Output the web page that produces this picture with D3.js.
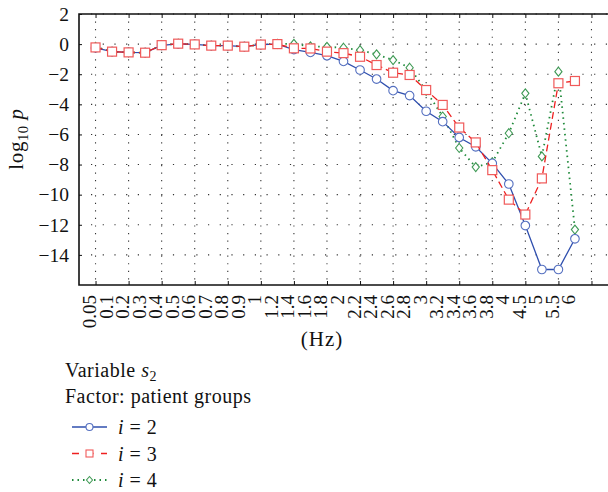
<!DOCTYPE html>
<html><head><meta charset="utf-8">
<script src="https://cdn.jsdelivr.net/npm/d3@7"></script>
<style>
body{margin:0;background:#fff;}
svg{display:block;font-family:"Liberation Serif","Times New Roman",serif;}
</style></head>
<body><svg id="c" width="608" height="492"></svg>
<script>
const categories = ["0.05","0.1","0.2","0.3","0.4","0.5","0.6","0.7","0.8","0.9","1","1.2","1.4","1.6","1.8","2","2.2","2.4","2.6","2.8","3","3.2","3.4","3.6","3.8","4","4.5","5","5.5","6"];
const seriesI2 = [-0.25,-0.5,-0.55,-0.57,-0.08,0.02,-0.02,-0.1,-0.1,-0.17,-0.03,0,-0.36,-0.55,-0.77,-1.15,-1.72,-2.32,-3.09,-3.42,-4.46,-5.15,-6.2,-6.82,-7.92,-9.29,-12.05,-14.97,-14.97,-12.93];
const seriesI3 = [-0.22,-0.5,-0.55,-0.57,-0.07,0.03,-0.02,-0.1,-0.1,-0.17,-0.03,0,-0.28,-0.29,-0.5,-0.6,-0.84,-1.39,-1.9,-2.05,-3.05,-4.04,-5.54,-6.53,-8.37,-10.33,-11.32,-8.92,-2.6,-2.45];
const seriesI4 = [-0.18,-0.5,-0.55,-0.57,-0.07,0.03,-0.02,-0.1,-0.1,-0.17,-0.03,0.02,0.02,-0.15,-0.18,-0.24,-0.4,-0.68,-1.06,-1.57,-3.1,-4.81,-6.9,-8.17,-7.85,-5.92,-3.27,-7.46,-1.83,-12.32];
const yTicks = [2,0,-2,-4,-6,-8,-10,-12,-14];
const legendLabels = ["2","3","4"];

const svg = d3.select("#c");
const L = 79, R = 608, T = 14, B = 285;
const x = d3.scaleLinear().domain([-1, 31]).range([L, R]);
const y = d3.scaleLinear().domain([-16, 2]).range([B, T]);
const gridX = d3.range(0, 31, 2);

// grid
const grid = svg.append("g");
yTicks.forEach(v => {
  grid.append("line").attr("x1", L+12).attr("x2", R).attr("y1", y(v)).attr("y2", y(v))
    .attr("stroke", "#333").attr("stroke-width", 1.1).attr("stroke-dasharray", "1.2,10.5");
});
gridX.forEach(i => {
  grid.append("line").attr("x1", x(i)).attr("x2", x(i)).attr("y1", y(1.5)).attr("y2", B)
    .attr("stroke", "#333").attr("stroke-width", 1.1).attr("stroke-dasharray", "1.2,6.35");
});

// axes
const yAxis = d3.axisLeft(y).tickValues(yTicks).tickSize(-3).tickPadding(10).tickFormat(d => d < 0 ? "\u2212" + Math.abs(d) : d);
const gy = svg.append("g").attr("transform", `translate(${L},0)`).call(yAxis);
gy.select(".domain").remove();
gy.selectAll("text").attr("font-size", 19.5).attr("font-family", "Liberation Serif").attr("fill", "#111");
gy.selectAll("line").attr("stroke", "#111");

const xAxisB = d3.axisBottom(x).tickValues(gridX).tickSize(-4).tickFormat("");
const gxb = svg.append("g").attr("transform", `translate(0,${B})`).call(xAxisB);
gxb.select(".domain").remove();
gxb.selectAll("line").attr("stroke", "#111");
const xAxisT = d3.axisTop(x).tickValues(gridX).tickSize(-4).tickFormat("");
const gxt = svg.append("g").attr("transform", `translate(0,${T})`).call(xAxisT);
gxt.select(".domain").remove();
gxt.selectAll("line").attr("stroke", "#111");

// frame
svg.append("path").attr("d", `M${R+2},${T}H${L}V${B}H${R+2}`).attr("fill", "none").attr("stroke", "#111").attr("stroke-width", 1.6);

// x tick labels
svg.append("g").selectAll("text").data(categories).join("text")
  .attr("transform", (d, i) => `translate(${x(i)+0.5},${B+10}) rotate(-90)`)
  .attr("text-anchor", "end").attr("font-size", 19).attr("fill", "#111").text(d => d);

svg.append("text").attr("x", 322).attr("y", 346).attr("text-anchor", "middle").attr("font-size", 21).attr("letter-spacing", 1).attr("fill", "#111").text("(Hz)");

// y label
const yl = svg.append("text").attr("transform", "translate(23,139) rotate(-90)").attr("text-anchor", "middle").attr("font-size", 21).attr("letter-spacing", 0.6).attr("fill", "#111");
yl.append("tspan").text("log");
yl.append("tspan").attr("font-size", 14.5).attr("dy", 5).text("10");
yl.append("tspan").attr("dy", -5).text(" ");
yl.append("tspan").attr("font-style", "italic").text("p");

// series
const series = [
  {vals: seriesI2, color: "#2f4fae", mcolor: "#5570c0", dash: null, marker: "circle"},
  {vals: seriesI3, color: "#ee2020", mcolor: "#f05a5a", dash: "7,4", marker: "square"},
  {vals: seriesI4, color: "#1f8a3a", mcolor: "#3f9a55", dash: "1.5,4", marker: "diamond"}
];
const line = d3.line().x((d, i) => x(i)).y(d => y(d));

function drawMarker(g, kind, color) {
  if (kind === "circle") g.append("circle").attr("r", 4.3).attr("fill", "#fff").attr("stroke", color).attr("stroke-width", 1.1);
  else if (kind === "square") g.append("rect").attr("x", -4.5).attr("y", -4.5).attr("width", 9).attr("height", 9).attr("fill", "#fff").attr("stroke", color).attr("stroke-width", 1.2);
  else g.append("path").attr("d", "M0,-4.5L3.6,0L0,4.5L-3.6,0Z").attr("fill", "#fff").attr("stroke", color).attr("stroke-width", 1.1);
}

// draw order: green, blue, red on top
[2, 0, 1].forEach(k => {
  const s = series[k];
  svg.append("path").datum(s.vals).attr("d", line).attr("fill", "none")
    .attr("stroke", s.color).attr("stroke-width", k === 2 ? 1.8 : 1.3)
    .attr("stroke-dasharray", s.dash);
  s.vals.forEach((v, i) => {
    const g = svg.append("g").attr("transform", `translate(${x(i)},${y(v)})`);
    drawMarker(g, s.marker, s.mcolor);
  });
});

// legend
const lg = svg.append("g").attr("fill", "#111");
const t1 = lg.append("text").attr("x", 65).attr("y", 377).attr("font-size", 20).attr("letter-spacing", 0.5);
t1.append("tspan").text("Variable ");
t1.append("tspan").attr("font-style", "italic").text("s");
t1.append("tspan").attr("font-size", 14).attr("dy", 4).text("2");
lg.append("text").attr("x", 65).attr("y", 403).attr("font-size", 20).attr("letter-spacing", 0.5).text("Factor: patient groups");
series.forEach((s, k) => {
  const yy = 427 + k * 26.5;
  lg.append("line").attr("x1", 72).attr("x2", 107).attr("y1", yy).attr("y2", yy)
    .attr("stroke", s.color).attr("stroke-width", k === 2 ? 1.8 : 1.3).attr("stroke-dasharray", s.dash ? (k === 1 ? "7,7.5" : "1.5,4") : null);
  const g = lg.append("g").attr("transform", `translate(89.5,${yy})`);
  if (s.marker === "circle") g.append("circle").attr("r", 3.5).attr("fill", "#fff").attr("stroke", s.mcolor).attr("stroke-width", 1.1);
  else if (s.marker === "square") g.append("rect").attr("x", -3.5).attr("y", -3.5).attr("width", 7).attr("height", 7).attr("fill", "#fff").attr("stroke", s.mcolor).attr("stroke-width", 1.1);
  else g.append("path").attr("d", "M0,-3.5L3,0L0,3.5L-3,0Z").attr("fill", "#fff").attr("stroke", s.mcolor).attr("stroke-width", 1.1);
  const t = lg.append("text").attr("x", 118).attr("y", yy + 7).attr("font-size", 20).attr("letter-spacing", 0.5);
  t.append("tspan").attr("font-style", "italic").text("i");
  t.append("tspan").text(" = " + legendLabels[k]);
});
</script></body></html>
